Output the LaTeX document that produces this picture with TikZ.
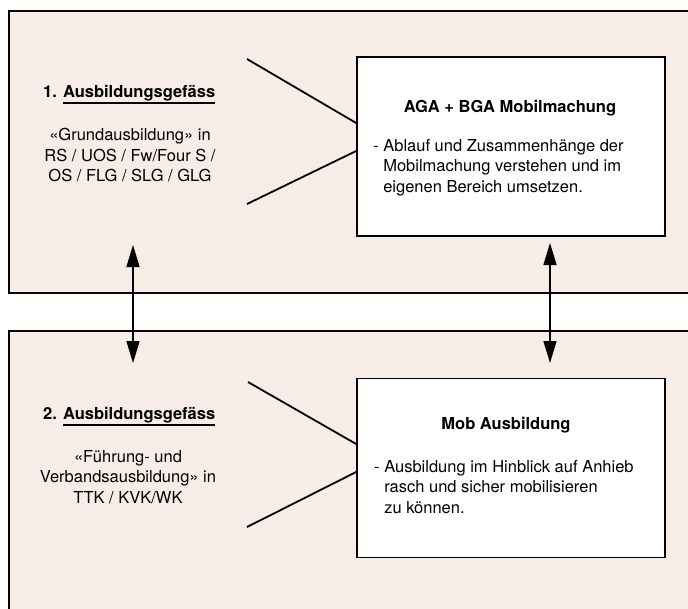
\documentclass[tikz,border=0pt]{standalone}
\usepackage{fontspec}
\setmainfont{TeX Gyre Heros}
\usetikzlibrary{arrows.meta,positioning}
\definecolor{scanpink}{RGB}{248,236,231}
\newcommand{\unterstr}[1]{\setbox0\hbox{#1}\rlap{\rule[-7pt]{\wd0}{1.8pt}}\box0}
\tikzset{
  gefaess/.style={draw, line width=1.7pt, fill=scanpink, minimum width=700pt, inner sep=0pt, anchor=north west},
  mobbox/.style={draw, line width=1.7pt, fill=white, minimum width=308pt, minimum height=179pt, inner sep=0pt},
  stichwort/.style={font=\fontsize{16.5}{20.5}\selectfont\bfseries, inner sep=0pt},
  fliesstext/.style={font=\fontsize{16.5}{20.5}\selectfont, inner sep=0pt},
  strich/.style={line width=1.8pt},
  wechsel/.style={line width=1.4pt, {Triangle[length=22pt,width=13pt]}-{Triangle[length=22pt,width=13pt]}}
}
\begin{document}
\begin{tikzpicture}[x=1pt, y=-1pt]
  \useasboundingbox (0,0) rectangle (688,608);
  \fill [white] (0,0) rectangle (688,608);
  \clip (0,0) rectangle (688,608);

  % die beiden Ausbildungsgefaesse
  \node [gefaess, minimum height=282pt] (gefA) at (8,10) {};
  \node [gefaess, minimum height=300pt] (gefB) at (8,330) {};

  % Mob-Kaesten rechts
  \node [mobbox] (mobA) at (511,146.5) {};
  \node [mobbox] (mobB) at (511,468) {};

  \node [stichwort, anchor=base] (titelA) at (510,112) {AGA + BGA Mobilmachung};
  \node [fliesstext, anchor=north west, align=left] (inhaltA) at (373,139)
    {- Ablauf und Zusammenhänge der\\
     \hphantom{- }Mobilmachung verstehen und im\\
     \hphantom{- }eigenen Bereich umsetzen.};

  \node [stichwort, anchor=base] (titelB) at (506,429) {Mob Ausbildung};
  \node [fliesstext, anchor=north west, align=left] (inhaltB) at (374,460)
    {- Ausbildung im Hinblick auf Anhieb\\
     \hphantom{- }rasch und sicher mobilisieren\\
     \hphantom{- }zu können.};

  % Texte links
  \node [stichwort, anchor=base west] (nrA) at (43,97) {1. \unterstr{Ausbildungsgefäss}};
  \node [fliesstext, anchor=north, align=center] (grundA) at (130,128)
    {«Grundausbildung» in\\RS / UOS / Fw/Four S /\\OS / FLG / SLG / GLG};

  \node [stichwort, anchor=base west] (nrB) at (43,419) {2. \unterstr{Ausbildungsgefäss}};
  \node [fliesstext, anchor=north, align=center] (grundB) at (128,450)
    {«Führung- und\\Verbandsausbildung» in\\TTK / KVK/WK};

  % Verbindungsstriche
  \coordinate (spitzeA1) at (247,59);
  \coordinate (spitzeA2) at (247,204);
  \coordinate (spitzeB1) at (248,382);
  \coordinate (spitzeB2) at (247,527);
  \draw [strich] (spitzeA1) -- ([yshift=23.5pt]mobA.west);
  \draw [strich] (spitzeA2) -- ([yshift=-4.5pt]mobA.west);
  \draw [strich] (spitzeB1) -- ([yshift=24pt]mobB.west);
  \draw [strich] (spitzeB2) -- ([yshift=-4pt]mobB.west);

  % Doppelpfeile
  \coordinate (linksOben) at (133,245);
  \coordinate (linksUnten) at (133,363);
  \coordinate (rechtsOben) at (550,243);
  \coordinate (rechtsUnten) at (550,363);
  \draw [wechsel] (linksOben) -- (linksUnten);
  \draw [wechsel] (rechtsOben) -- (rechtsUnten);
\end{tikzpicture}
\end{document}
